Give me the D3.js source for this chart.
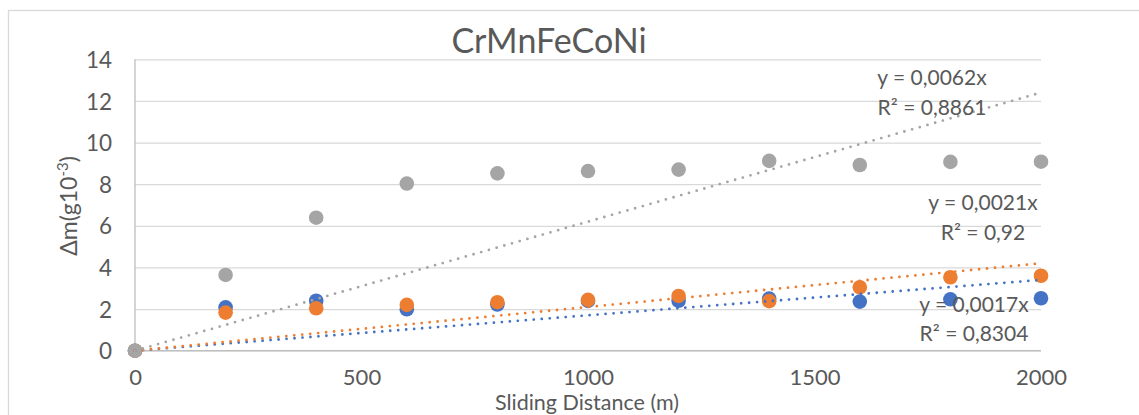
<!DOCTYPE html>
<html>
<head>
<meta charset="utf-8">
<script src="https://cdn.jsdelivr.net/npm/d3@7"></script>
<style>
  html, body { margin: 0; padding: 0; background: #fff; }
  svg { display: block; }
  text { font-family: Lato, "Open Sans", sans-serif; fill: #595959; }
</style>
</head>
<body>
<svg id="chart" width="1139" height="415"></svg>
<script>
// Sliding distance (m) at which mass loss was measured
const distances = [0, 200, 400, 600, 800, 1000, 1200, 1400, 1600, 1800, 2000];

// Mass loss Δm (g·10^-3) for each of the three test series
const massLossBlue   = [0, 2.08, 2.40, 1.99, 2.22, 2.39, 2.40, 2.50, 2.36, 2.47, 2.52];
const massLossOrange = [0, 1.83, 2.04, 2.20, 2.33, 2.44, 2.63, 2.38, 3.05, 3.53, 3.60];
const massLossGray   = [0, 3.64, 6.39, 8.03, 8.52, 8.63, 8.70, 9.12, 8.92, 9.07, 9.08];

// Linear fits through the origin (slope) and their R² values
const trendSlopes = [0.0017, 0.0021, 0.0062];
const trendR2     = ["0,8304", "0,92", "0,8861"];
const trendEqs    = ["y = 0,0017x", "y = 0,0021x", "y = 0,0062x"];

const seriesColors = ["#4472c4", "#ed7d31", "#a5a5a5"];

const xTicks = [0, 500, 1000, 1500, 2000];
const yTicks = [0, 2, 4, 6, 8, 10, 12, 14];

const chartTitle = "CrMnFeCoNi";
const xTitle = "Sliding Distance (m)";

const svg = d3.select("#chart");

// Outer chart frame
svg.append("rect")
  .attr("x", 8.5).attr("y", 10.5)
  .attr("width", 1160).attr("height", 440)
  .attr("fill", "#fff")
  .attr("stroke", "#d9d9d9").attr("stroke-width", 1.3);

const x = d3.scaleLinear().domain([0, 2000]).range([135, 1041]);
const y = d3.scaleLinear().domain([0, 14]).range([350.7, 59.3]);

// Horizontal gridlines and y tick labels
const yAxis = svg.append("g")
  .attr("transform", `translate(${x(0)},0)`)
  .call(d3.axisLeft(y).tickValues(yTicks).tickSize(-(x(2000) - x(0))).tickPadding(23).tickFormat(d3.format("d")));
yAxis.select(".domain").remove();
yAxis.selectAll(".tick line").attr("stroke", "#d9d9d9").attr("stroke-width", 1.3);
yAxis.selectAll(".tick text")
  .attr("font-size", 22.5).attr("fill", "#595959").attr("dy", "0.36em")
  .style("font-family", "Lato, 'Open Sans', sans-serif");

// x tick labels
const xAxis = svg.append("g")
  .attr("transform", `translate(0,${y(0)})`)
  .call(d3.axisBottom(x).tickValues(xTicks).tickSize(0).tickFormat(d3.format("d")));
xAxis.select(".domain").remove();
xAxis.selectAll(".tick text")
  .attr("y", 34.5).attr("dy", 0)
  .attr("font-size", 22).attr("fill", "#595959")
  .style("font-family", "Lato, 'Open Sans', sans-serif");

// Axis lines
svg.append("line")
  .attr("x1", x(0)).attr("x2", x(0)).attr("y1", y(14)).attr("y2", y(0))
  .attr("stroke", "#bfbfbf").attr("stroke-width", 1.3);
svg.append("line")
  .attr("x1", x(0)).attr("x2", x(2000)).attr("y1", y(0)).attr("y2", y(0))
  .attr("stroke", "#bfbfbf").attr("stroke-width", 1.3);

// Markers: blue first, then orange, then gray on top
const allSeries = [massLossBlue, massLossOrange, massLossGray];
allSeries.forEach((vals, i) => {
  svg.append("g").selectAll("circle")
    .data(distances.map((d, k) => [d, vals[k]]))
    .join("circle")
    .attr("cx", d => x(d[0]))
    .attr("cy", d => y(d[1]))
    .attr("r", 7.3)
    .attr("fill", seriesColors[i]);
});

// Dotted linear trendlines through the origin
trendSlopes.forEach((m, i) => {
  const pts = [0, 2000].map(d => [d, m * d]);
  svg.append("path")
    .attr("d", d3.line().x(d => x(d[0])).y(d => y(d[1]))(pts))
    .attr("fill", "none")
    .attr("stroke", seriesColors[i])
    .attr("stroke-width", 2.8)
    .attr("stroke-linecap", "round")
    .attr("stroke-dasharray", "0 8");
});

// Trendline equation labels (centred text blocks)
const labelPos = [[974, 311.7], [983, 210], [932, 85]];
trendSlopes.forEach((m, i) => {
  const t = svg.append("text")
    .attr("text-anchor", "middle")
    .attr("font-size", 21);
  t.append("tspan").attr("x", labelPos[i][0]).attr("y", labelPos[i][1]).text(trendEqs[i]);
  t.append("tspan").attr("x", labelPos[i][0]).attr("y", labelPos[i][1] + 29.5).text("R² = " + trendR2[i]);
});

// Title
svg.append("text")
  .attr("x", 549).attr("y", 53)
  .attr("text-anchor", "middle")
  .attr("font-size", 34)
  .text(chartTitle);

// x-axis title
svg.append("text")
  .attr("x", 587).attr("y", 410.3)
  .attr("text-anchor", "middle")
  .attr("font-size", 21.5)
  .text(xTitle);

// y-axis title with superscript exponent
const yt = svg.append("text")
  .attr("transform", "translate(77,206) rotate(-90)")
  .attr("text-anchor", "middle")
  .attr("font-size", 23);
yt.append("tspan").text("Δm(g10");
yt.append("tspan").attr("font-size", 15).attr("dy", -9).text("-3");
yt.append("tspan").attr("dy", 9).text(")");
</script>
</body>
</html>
